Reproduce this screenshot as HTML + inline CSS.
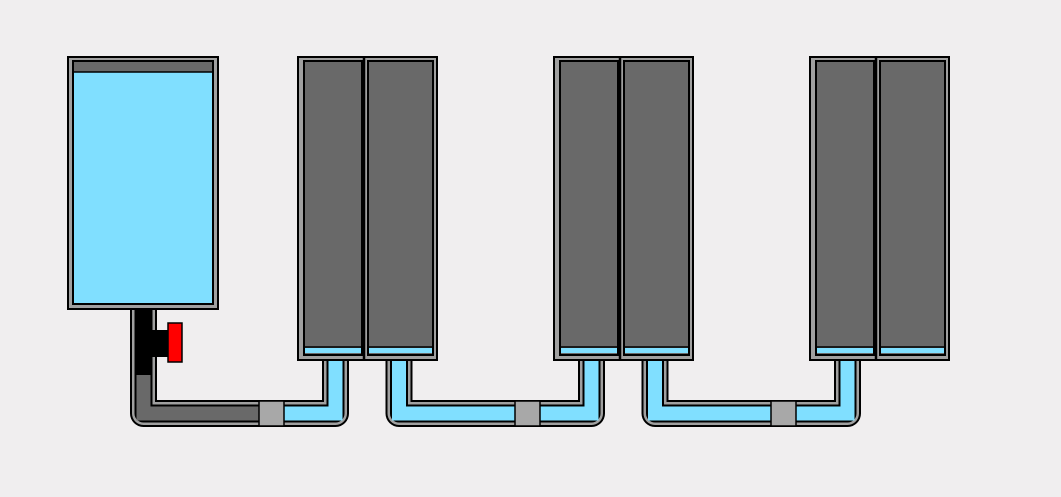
<!DOCTYPE html>
<html><head><meta charset="utf-8"><style>
html,body{margin:0;padding:0;background:#f0eeef;}
svg{display:block;}
</style></head><body>
<svg width="1061" height="497" viewBox="0 0 1061 497" xmlns="http://www.w3.org/2000/svg">
<defs>
<g id="pair">
  <rect x="0" y="1" width="139" height="303" fill="#a0a0a0" stroke="#000" stroke-width="2"/>
  <line x1="66" y1="1" x2="66" y2="304" stroke="#000" stroke-width="2.5"/>
  <rect x="6" y="5" width="58" height="294" fill="#696969" stroke="#000" stroke-width="2"/>
  <rect x="70" y="5" width="65" height="294" fill="#696969" stroke="#000" stroke-width="2"/>
  <rect x="7" y="292" width="56" height="5" fill="#80dfff"/>
  <rect x="71" y="292" width="63" height="5" fill="#80dfff"/>
  <line x1="7" y1="291" x2="63" y2="291" stroke="#000" stroke-width="1.5"/>
  <line x1="71" y1="291" x2="134" y2="291" stroke="#000" stroke-width="1.5"/>
</g>
</defs>
<!-- pipes -->
<g fill="none" stroke-linejoin="round">
  <g>
    <path d="M143.5 308 V413.5 H335.5 V358" stroke="#000" stroke-width="27"/>
    <path d="M143.5 308 V413.5 H335.5 V358" stroke="#a0a0a0" stroke-width="23"/>
    <path d="M143.5 308 V413.5 H335.5 V358" stroke="#000" stroke-width="18"/>
    <path d="M143.5 308 V413.5 H271 " stroke="#696969" stroke-width="14" stroke-linejoin="miter"/>
    <path d="M143.5 308 V375" stroke="#000" stroke-width="14" stroke-linecap="butt"/>
    <path d="M271 413.5 H335.5 V359" stroke="#80dfff" stroke-width="14" stroke-linejoin="miter"/>
  </g>
  <g>
    <path d="M399 358 V413.5 H591.5 V358" stroke="#000" stroke-width="27"/>
    <path d="M399 358 V413.5 H591.5 V358" stroke="#a0a0a0" stroke-width="23"/>
    <path d="M399 358 V413.5 H591.5 V358" stroke="#000" stroke-width="18"/>
    <path d="M399 359 V413.5 H591.5 V359" stroke="#80dfff" stroke-width="14" stroke-linejoin="miter"/>
  </g>
  <g>
    <path d="M655 358 V413.5 H847.5 V358" stroke="#000" stroke-width="27"/>
    <path d="M655 358 V413.5 H847.5 V358" stroke="#a0a0a0" stroke-width="23"/>
    <path d="M655 358 V413.5 H847.5 V358" stroke="#000" stroke-width="18"/>
    <path d="M655 359 V413.5 H847.5 V359" stroke="#80dfff" stroke-width="14" stroke-linejoin="miter"/>
  </g>
</g>
<!-- connectors -->
<rect x="259" y="401" width="25" height="25" fill="#a8a8a8" stroke="#000" stroke-width="1.5"/>
<rect x="515" y="401" width="25" height="25" fill="#a8a8a8" stroke="#000" stroke-width="1.5"/>
<rect x="771" y="401" width="25" height="25" fill="#a8a8a8" stroke="#000" stroke-width="1.5"/>
<!-- valve -->
<rect x="148" y="330" width="20" height="27" fill="#000"/>
<rect x="168" y="323" width="14" height="39" fill="#ff0000" stroke="#000" stroke-width="1.5"/>
<!-- tank -->
<rect x="68" y="57" width="150" height="252" fill="#a0a0a0" stroke="#000" stroke-width="2"/>
<rect x="73" y="61" width="140" height="243" fill="#696969" stroke="#000" stroke-width="2"/>
<rect x="74" y="72" width="138" height="231" fill="#80dfff"/>
<line x1="74" y1="72" x2="212" y2="72" stroke="#000" stroke-width="1.5"/>
<!-- columns -->
<use href="#pair" x="298" y="56"/>
<use href="#pair" x="554" y="56"/>
<use href="#pair" x="810" y="56"/>
</svg>
</body></html>
